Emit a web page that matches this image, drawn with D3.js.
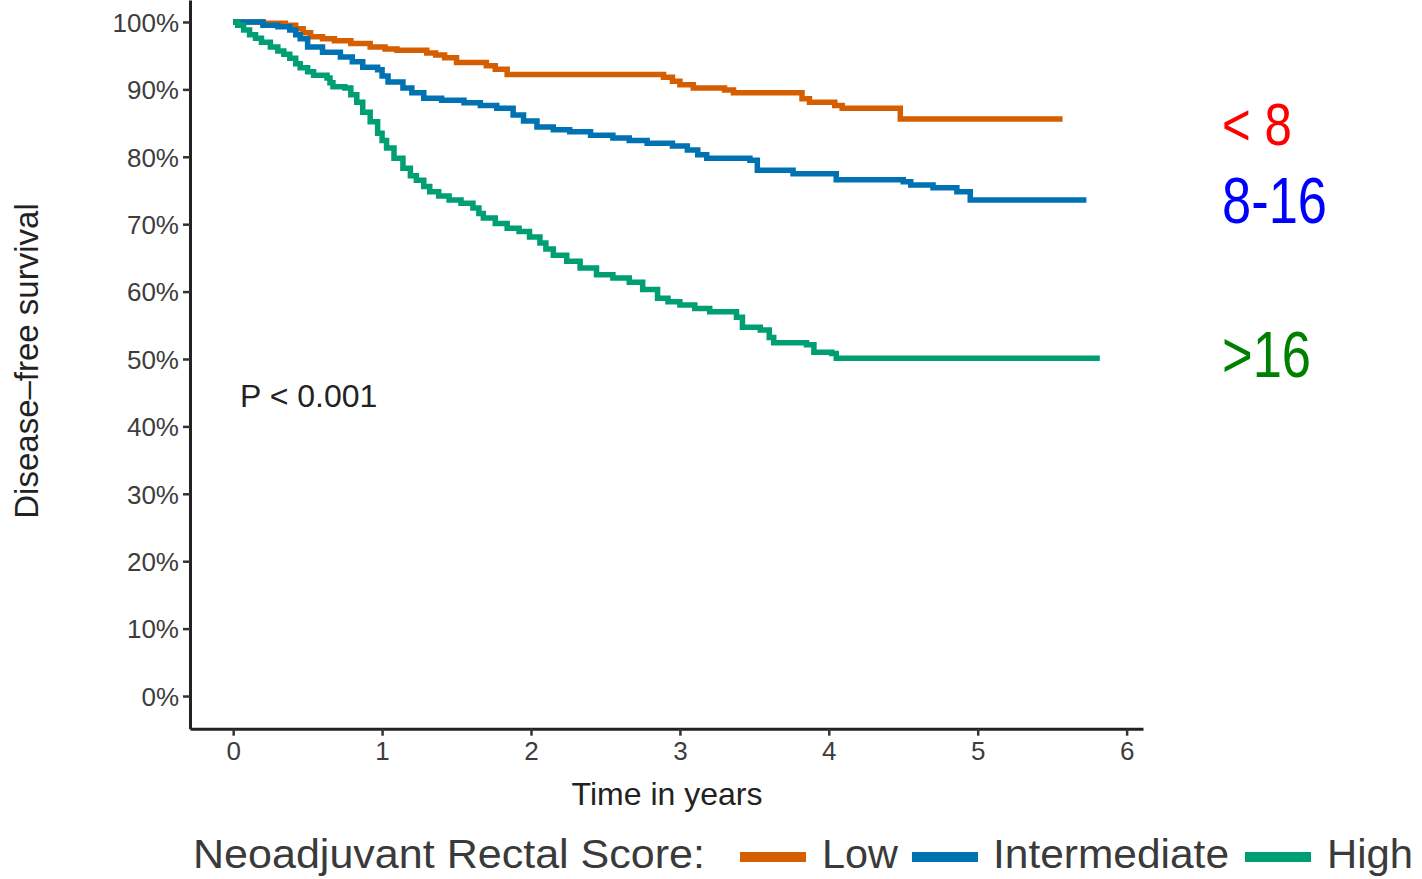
<!DOCTYPE html>
<html>
<head>
<meta charset="utf-8">
<script src="https://cdn.jsdelivr.net/npm/d3@7"></script>
<style>
  body { margin: 0; background: #fff; }
  svg { display: block; font-family: "Liberation Sans", Arial, sans-serif; }
</style>
</head>
<body>
<div class="container"></div>
<script>

// survival steps: [years, survival]
var lowSteps = [
  [0, 1], [0.2, 0.998], [0.35, 0.995], [0.42, 0.99], [0.47, 0.984], [0.52, 0.978],
  [0.6, 0.975], [0.68, 0.972], [0.79, 0.968], [0.92, 0.963], [1.02, 0.96], [1.1, 0.958],
  [1.3, 0.954], [1.36, 0.951], [1.42, 0.947], [1.5, 0.94], [1.7, 0.935], [1.76, 0.93],
  [1.84, 0.922], [2.89, 0.918], [2.95, 0.912], [3.0, 0.907], [3.09, 0.902], [3.3, 0.899],
  [3.36, 0.895], [3.82, 0.886], [3.87, 0.881], [4.04, 0.876], [4.09, 0.872], [4.48, 0.856],
  [5.57, 0.856]
]
var intermediateSteps = [
  [0, 1], [0.2, 0.995], [0.3, 0.993], [0.38, 0.988], [0.42, 0.981], [0.45, 0.975],
  [0.5, 0.963], [0.6, 0.955], [0.72, 0.948], [0.8, 0.941], [0.87, 0.933], [0.97, 0.929],
  [1.0, 0.92], [1.04, 0.911], [1.14, 0.902], [1.2, 0.895], [1.28, 0.887], [1.4, 0.884],
  [1.55, 0.88], [1.66, 0.876], [1.77, 0.872], [1.88, 0.862], [1.95, 0.853], [2.04, 0.844],
  [2.15, 0.84], [2.26, 0.837], [2.4, 0.832], [2.55, 0.828], [2.66, 0.824], [2.78, 0.82],
  [2.95, 0.816], [3.05, 0.81], [3.12, 0.803], [3.18, 0.798], [3.47, 0.795], [3.52, 0.78],
  [3.76, 0.775], [4.05, 0.766], [4.5, 0.763], [4.55, 0.758], [4.7, 0.754], [4.86, 0.748],
  [4.95, 0.736], [5.73, 0.736]
]
var highSteps = [
  [0, 1], [0.03, 0.995], [0.07, 0.988], [0.11, 0.981], [0.15, 0.976], [0.19, 0.97],
  [0.25, 0.963], [0.3, 0.957], [0.34, 0.952], [0.38, 0.946], [0.42, 0.938], [0.45, 0.932],
  [0.5, 0.926], [0.54, 0.921], [0.63, 0.917], [0.65, 0.91], [0.67, 0.904], [0.75, 0.902],
  [0.79, 0.892], [0.83, 0.881], [0.87, 0.866], [0.92, 0.852], [0.97, 0.835], [1.0, 0.824],
  [1.03, 0.813], [1.08, 0.798], [1.14, 0.783], [1.19, 0.772], [1.23, 0.765], [1.28, 0.756],
  [1.32, 0.748], [1.38, 0.742], [1.45, 0.736], [1.53, 0.731], [1.61, 0.724], [1.65, 0.716],
  [1.68, 0.709], [1.76, 0.701], [1.84, 0.694], [1.92, 0.689], [1.99, 0.681], [2.06, 0.672],
  [2.1, 0.663], [2.15, 0.654], [2.24, 0.645], [2.33, 0.635], [2.44, 0.625], [2.55, 0.62],
  [2.66, 0.614], [2.75, 0.603], [2.85, 0.59], [2.92, 0.585], [3.0, 0.58], [3.1, 0.575],
  [3.2, 0.57], [3.38, 0.562], [3.42, 0.547], [3.54, 0.543], [3.6, 0.532], [3.63, 0.524],
  [3.85, 0.521], [3.9, 0.51], [4.02, 0.508], [4.05, 0.501], [5.82, 0.501]
]

var groups = ['Low', 'Intermediate', 'High']
var groupColors = ['#D55E00', '#0072B2', '#009E73']
var groupSteps = [lowSteps, intermediateSteps, highSteps]

var xTicks = [0, 1, 2, 3, 4, 5, 6]
var yTicks = [0, 0.1, 0.2, 0.3, 0.4, 0.5, 0.6, 0.7, 0.8, 0.9, 1]

var scoreLabels = ['< 8', '8-16', '>16']
var scoreColors = ['#FF0000', '#0000FF', '#008000']

var width = 1422, height = 879

var svg = d3.select('.container').append('svg')
  .attr('width', width).attr('height', height)

var x = d3.scaleLinear().domain([-0.29, 6.11]).range([190, 1143])
var y = d3.scaleLinear().domain([-0.0485, 1.0326]).range([728.7, 0])

// axes
var yAxis = svg.append('g').attr('transform', 'translate(190,0)')
  .call(d3.axisLeft(y).tickValues(yTicks).tickFormat(d3.format('.0%'))
    .tickSize(7).tickSizeOuter(0).tickPadding(4))
var xAxis = svg.append('g').attr('transform', 'translate(0,728.7)')
  .call(d3.axisBottom(x).tickValues(xTicks).tickFormat(d3.format('d'))
    .tickSize(7).tickSizeOuter(0).tickPadding(6))

;[yAxis, xAxis].forEach(sel => {
  sel.select('.domain').attr('stroke', '#222').attr('stroke-width', 3)
  sel.selectAll('.tick line').attr('stroke', '#333').attr('stroke-width', 2.5)
  sel.selectAll('.tick text').attr('fill', '#3d3d3d').style('font-size', '26px')
})
yAxis.selectAll('.tick text').attr('dy', '0.36em')

// survival curves
var line = d3.line()
  .x(d => x(d[0]))
  .y(d => y(d[1]))
  .curve(d3.curveStepAfter)

svg.append('g').selectAll('path')
  .data(groupSteps)
  .join('path')
  .attr('d', line)
  .attr('fill', 'none')
  .attr('stroke', (d, i) => groupColors[i])
  .attr('stroke-width', 5.5)

// axis titles
svg.append('text')
  .attr('transform', 'translate(38,361) rotate(-90)')
  .attr('text-anchor', 'middle')
  .style('font-size', '33px')
  .attr('fill', '#222')
  .text('Disease\u2013free survival')

svg.append('text')
  .attr('x', 667).attr('y', 805)
  .attr('text-anchor', 'middle')
  .style('font-size', '32px')
  .attr('fill', '#222')
  .text('Time in years')

svg.append('text')
  .attr('x', 240).attr('y', 407)
  .style('font-size', '32px')
  .attr('fill', '#222')
  .text('P < 0.001')

// score annotations on the right
var scoreY = [145, 223, 377]
var scoreSize = [60, 64, 64]
svg.append('g').selectAll('text')
  .data(scoreLabels)
  .join('text')
  .attr('transform', (d, i) => `translate(1222,${scoreY[i]}) scale(0.82,1)`)
  .style('font-size', (d, i) => scoreSize[i] + 'px')
  .attr('fill', (d, i) => scoreColors[i])
  .text(d => d)

// legend
var legend = svg.append('g').style('font-size', '40px').attr('fill', '#3a3a3a')
legend.append('text').attr('x', 193).attr('y', 868)
  .attr('textLength', 512).attr('lengthAdjust', 'spacingAndGlyphs')
  .text('Neoadjuvant Rectal Score:')

var keyX = [740, 912, 1245]
var labelX = [822, 993, 1327]
var labelW = [76, 236, 86]
groups.forEach((g, i) => {
  legend.append('line')
    .attr('x1', keyX[i]).attr('x2', keyX[i] + 66)
    .attr('y1', 857).attr('y2', 857)
    .attr('stroke', groupColors[i]).attr('stroke-width', 10)
  legend.append('text').attr('x', labelX[i]).attr('y', 868)
    .attr('textLength', labelW[i]).attr('lengthAdjust', 'spacingAndGlyphs')
    .text(g)
})

</script>
</body>
</html>
